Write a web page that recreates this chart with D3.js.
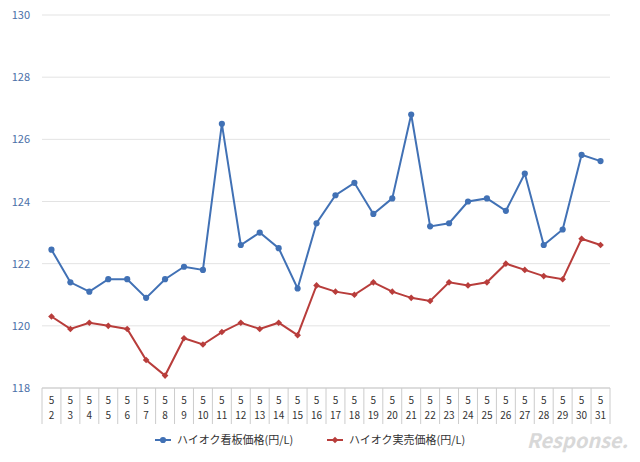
<!DOCTYPE html>
<html><head><meta charset="utf-8">
<script src="https://cdn.jsdelivr.net/npm/d3@7"></script>
<style>body{margin:0;background:#fff;font-family:"Noto Sans CJK JP","Noto Sans",sans-serif}</style>
</head><body>
<script>
// data
const days = d3.range(2, 32)
const kanban = [122.45,121.4,121.1,121.5,121.5,120.9,121.5,121.9,121.8,126.5,122.6,123.0,122.5,121.2,123.3,124.2,124.6,123.6,124.1,126.8,123.2,123.3,124.0,124.1,123.7,124.9,122.6,123.1,125.5,125.3]
const jitsubai = [120.3,119.9,120.1,120.0,119.9,118.9,118.4,119.6,119.4,119.8,120.1,119.9,120.1,119.7,121.3,121.1,121.0,121.4,121.1,120.9,120.8,121.4,121.3,121.4,122.0,121.8,121.6,121.5,122.8,122.6]
const yTicks = [118,120,122,124,126,128,130]
const series = [
  {name:"ハイオク看板価格(円/L)", values:kanban, color:"#4171b5", shape:"circle"},
  {name:"ハイオク実売価格(円/L)", values:jitsubai, color:"#b83d3b", shape:"diamond"}
]

const w = 640, h = 462
const padL = 42, padR = 610, padT = 15, padB = 388

const svg = d3.select("body").append("svg").attr("width", w).attr("height", h)

const x = d3.scaleBand().domain(days).range([padL, padR])
const y = d3.scaleLinear().domain([118, 130]).range([padB, padT])

const symPath = s => s === "circle"
  ? d3.symbol().type(d3.symbolCircle).size(30)()
  : d3.symbol().type(d3.symbolSquare).size(22)()
const symRot = s => s === "circle" ? "" : " rotate(45)"

// grid
svg.append("g").selectAll("line").data(yTicks).enter().append("line")
  .attr("x1", padL).attr("x2", padR)
  .attr("y1", d => y(d)).attr("y2", d => y(d))
  .attr("stroke", d => d === 118 ? "#bbb" : "#e3e3e3")

svg.append("g").selectAll("text").data(yTicks).enter().append("text")
  .attr("x", 30).attr("y", d => y(d) + 4)
  .attr("text-anchor", "end").attr("font-size", 11).attr("fill", "#4a6fa8")
  .text(d => d)

// category separators + labels
const xb = x.domain().map(d => x(d)).concat([padR])
svg.append("g").selectAll("line").data(xb).enter().append("line")
  .attr("x1", d => d).attr("x2", d => d)
  .attr("y1", padB).attr("y2", 424).attr("stroke", "#ccc")

const lab = svg.append("g").selectAll("g").data(days).enter().append("g")
  .attr("transform", d => `translate(${x(d) + x.bandwidth()/2},0)`)
lab.append("text").attr("y", 404).attr("text-anchor", "middle").attr("font-size", 10).attr("fill", "#333").text("5")
lab.append("text").attr("y", 419).attr("text-anchor", "middle").attr("font-size", 10).attr("fill", "#333").text(d => d)

// lines
series.forEach(s => {
  const line = d3.line().x((d, i) => x(days[i]) + x.bandwidth()/2).y(d => y(d))
  svg.append("path").datum(s.values).attr("d", line)
    .attr("fill", "none").attr("stroke", s.color).attr("stroke-width", 2)
  svg.append("g").selectAll("path").data(s.values).enter().append("path")
    .attr("d", symPath(s.shape))
    .attr("transform", (d, i) => `translate(${x(days[i]) + x.bandwidth()/2},${y(d)})` + symRot(s.shape))
    .attr("fill", s.color)
})

// legend
const lg = svg.append("g").selectAll("g").data(series).enter().append("g")
  .attr("transform", (d, i) => `translate(${155 + i*172},440)`)
lg.append("line").attr("x1", 0).attr("x2", 16).attr("stroke", d => d.color).attr("stroke-width", 2)
lg.append("path").attr("d", d => symPath(d.shape))
  .attr("transform", d => "translate(8,0)" + symRot(d.shape)).attr("fill", d => d.color)
lg.append("text").attr("x", 22).attr("y", 4).attr("font-size", 11).attr("fill", "#333").text(d => d.name)

// watermark
svg.append("text").attr("x", 628).attr("y", 448).attr("text-anchor", "end")
  .attr("font-size", 20).attr("font-style", "italic").attr("font-weight", "bold")
  .attr("fill", "#d8d8d8").text("Response.")
</script>
</body></html>
